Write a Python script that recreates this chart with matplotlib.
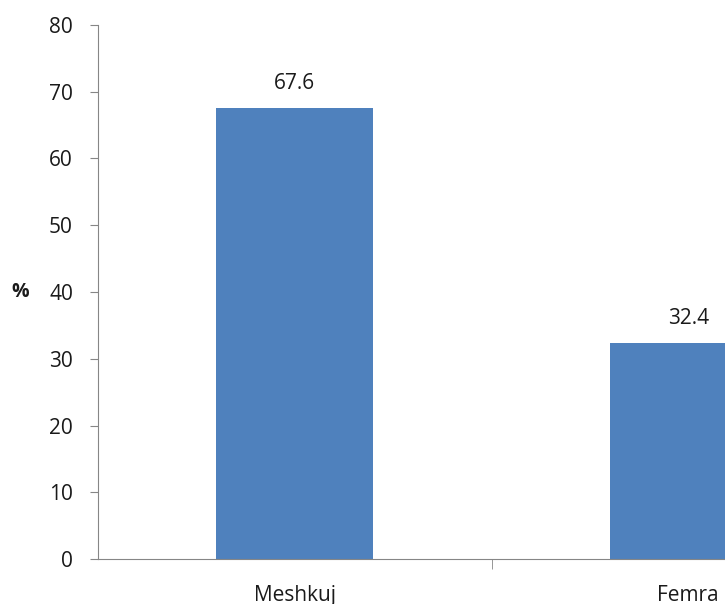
import matplotlib.pyplot as plt

# share of respondents by gender
categories = ['Meshkuj', 'Femra']
percent = [67.6, 32.4]

plt.rcParams['font.family'] = ['Open Sans', 'DejaVu Sans']

fig = plt.figure(figsize=(7.25, 6.04), dpi=100)
# the axes run past the right edge of the figure, so the second bar is cut
ax = fig.add_axes([98 / 725, 45 / 604, 787 / 725, 534 / 604])

x = range(len(categories))
ax.bar(x, percent, width=0.4, color='#4F81BD')

for xi, v in zip(x, percent):
    ax.annotate(f'{v}', (xi, v), xytext=(0, 10), textcoords='offset points',
                ha='center', va='bottom', fontsize=15, color='#1a1a1a')

ax.set_xlim(-0.5, 1.5)
ax.set_ylim(0, 80)
ax.set_yticks(range(0, 81, 10))
ax.set_xticks(list(x))
ax.set_xticklabels(categories)
ax.set_xticks([0.5], minor=True)

for side in ['top', 'right']:
    ax.spines[side].set_visible(False)
for side in ['left', 'bottom']:
    ax.spines[side].set_color('#868686')

ax.tick_params(axis='y', length=6, color='#868686', labelsize=15,
               labelcolor='#1a1a1a', pad=12)
ax.tick_params(axis='x', which='major', length=0, labelsize=15,
               labelcolor='#1a1a1a', pad=19)
ax.tick_params(axis='x', which='minor', length=7, color='#868686',
               direction='out')

ax.set_ylabel('%', rotation=0, fontsize=14, fontweight='bold',
              color='#1a1a1a', labelpad=21, va='center')

fig.savefig('out.png', dpi=100)
